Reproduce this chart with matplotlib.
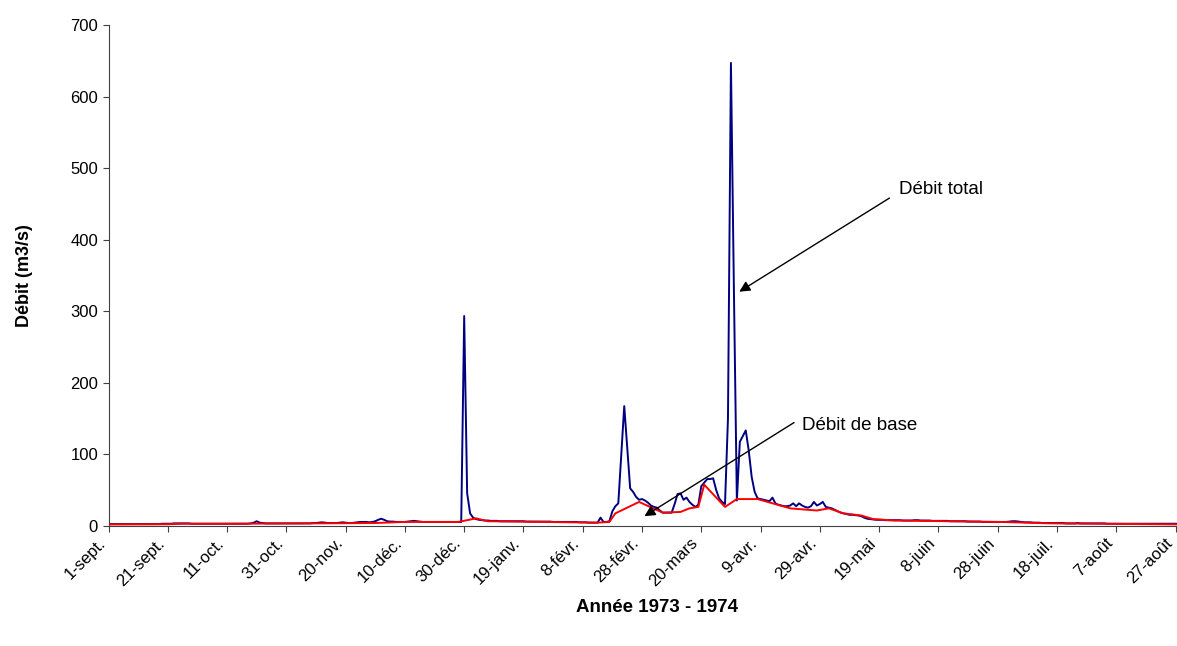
import matplotlib
matplotlib.use("Agg")
import matplotlib.pyplot as plt
from matplotlib.transforms import ScaledTranslation
import numpy as np

plt.rcParams['font.family'] = ['Liberation Sans', 'DejaVu Sans']

# Daily total flow (m3/s), 1 Sept 1973 -> 31 Aug 1974
debit_total = [
    2, 2, 2, 2, 2, 2, 2, 2, 2, 2,
    2, 2, 2, 2, 2, 2, 2, 2, 2.5, 2.5,
    2.5, 2.5, 3, 3, 3, 3, 3, 3, 2.5, 2.5,
    2.5, 2.5, 2.5, 2.5, 2.5, 2.5, 2.5, 2.5, 2.5, 2.5,
    2.5, 2.5, 2.5, 2.5, 2.5, 2.5, 2.5, 2.5, 3, 4,
    6, 4, 3.5, 3, 3, 3, 3, 3, 3, 3,
    3, 3, 3, 3, 3, 3, 3, 3, 3, 3.5,
    3.5, 4, 4.5, 4, 3.5, 3.5, 3.5, 3.5, 4, 4.5,
    4, 3.5, 3.5, 4, 4.5, 5, 5, 5, 4.5, 5,
    6, 8, 9.5, 8, 6, 5.5, 5.5, 5, 5, 5,
    5, 5.5, 6, 6.5, 6, 5.5, 5, 5, 5, 5,
    5, 5, 5, 5, 5, 5, 5, 5, 5, 5,
    293, 45, 17, 11, 9, 8, 7.5, 7, 7, 6.5,
    6.5, 6.5, 6, 6, 6, 6, 6, 6, 6, 6,
    6, 5.5, 5.5, 5.5, 5.5, 5.5, 5.5, 5.5, 5.5, 5.5,
    5, 5, 5, 5, 5, 5, 5, 5, 5, 4.5,
    4.5, 4.5, 4, 4, 4, 4, 11, 5, 5, 6,
    20, 27, 31, 100, 167, 110, 52, 47, 40, 36,
    37, 35, 32, 28, 26, 25, 21, 18, 18, 18,
    18, 30, 44, 45, 36, 39, 33, 29, 26, 29,
    55, 60, 65, 65, 66, 50, 38, 33, 30, 150,
    647, 330, 35, 117, 125, 133, 105, 68, 47, 38,
    37, 36, 35, 34, 39, 31, 29, 28, 27, 27,
    28, 31, 27, 31, 28, 26, 25, 27, 33, 28,
    30, 33, 26, 25, 24, 22, 20, 18, 17, 16,
    15, 15, 14.5, 14, 13, 11, 9.5, 9, 8.5, 8,
    8, 8, 7.5, 7.5, 7.5, 7.5, 7.5, 7.5, 7, 7,
    7, 7, 7.5, 7.5, 7, 7, 7, 7, 6.5, 6.5,
    6.5, 6.5, 6.5, 6.5, 6, 6, 6, 6, 6, 6,
    5.5, 5.5, 5.5, 5.5, 5.5, 5, 5, 5, 5, 5,
    5, 5, 5, 5, 5.5, 6, 6, 5.5, 5, 4.5,
    4.5, 4.5, 4, 4, 4, 3.5, 3.5, 3.5, 3.5, 3.5,
    3.5, 3.5, 3.5, 3, 3, 3, 3, 3.5, 3, 3,
    3, 3, 3, 3, 3, 3, 3, 2.5, 2.5, 2.5,
    2.5, 2.5, 2.5, 2.5, 2.5, 2.5, 2.5, 2.5, 2.5, 2.5,
    2.5, 2.5, 2.5, 2.5, 2.5, 2.5, 2.5, 2.5, 2.5, 2.5,
    2.5, 2.5, 2.5, 2.5, 2.5,
]

# Base flow: straight segments between separation points (day index, m3/s)
base_jours = [0, 20, 25, 40, 70, 90, 100, 118, 124, 128, 165, 169, 171, 179,
              187, 193, 196, 199, 201, 208, 212, 219, 230, 239, 243, 248,
              254, 258, 265, 301, 318, 364]
base_debit = [1.5, 1.8, 2.5, 2.5, 3, 3.5, 5, 5, 10, 6, 4, 5, 17, 33,
              18, 19, 24, 26, 57, 26, 37, 37, 24, 21, 24, 17,
              14, 9, 7, 5, 3, 1.5]

tick_labels = ['1-sept.', '21-sept.', '11-oct.', '31-oct.', '20-nov.', '10-déc.',
               '30-déc.', '19-janv.', '8-févr.', '28-févr.', '20-mars', '9-avr.',
               '29-avr.', '19-mai', '8-juin', '28-juin', '18-juil.', '7-août',
               '27-août']

jours = np.arange(len(debit_total))

fig = plt.figure(figsize=(11.77, 6.46), dpi=100)
ax = fig.add_axes([0.0922, 0.1865, 0.9078, 0.7748])

ax.plot(jours, debit_total, color='#000080', lw=1.4, zorder=2)
ax.plot(base_jours, base_debit, color='#FF0000', lw=1.4, zorder=3)

ax.set_xlim(0, 360.5)
ax.set_ylim(0, 700)
ax.set_yticks(range(0, 701, 100))
ax.set_xticks(np.arange(0, 361, 20))
ax.set_xticklabels(tick_labels, rotation=45, ha='right', va='center',
                   rotation_mode='anchor')

ax.spines['top'].set_visible(False)
ax.spines['right'].set_visible(False)
for s in ['left', 'bottom']:
    ax.spines[s].set_color('#404040')
ax.tick_params(axis='both', direction='out', length=4, width=0.8,
               color='#404040', labelsize=12)
ax.tick_params(axis='x', pad=8)

# nudge the slanted labels a little to the left so the last one fits
# (done after tick_params, which resets the label transforms)
shift = ScaledTranslation(-4 / 72, 1 / 72, fig.dpi_scale_trans)
for lbl in ax.get_xticklabels():
    lbl.set_transform(lbl.get_transform() + shift)

ax.set_ylabel('Débit (m3/s)', fontsize=13, fontweight='bold', labelpad=27)
fig.text(657 / 1177, 1 - 607 / 646, 'Année 1973 - 1974', fontsize=13.5,
         fontweight='bold', ha='center', va='center')

# annotations
ax.annotate('', xy=(212.8, 327), xytext=(263.5, 458),
            arrowprops=dict(arrowstyle='-|>', color='black', lw=1,
                            mutation_scale=16, shrinkA=0, shrinkB=0))
ax.text(266.7, 470, 'Débit total', fontsize=13.5, ha='left', va='center')

ax.annotate('', xy=(180.8, 13), xytext=(231.3, 144),
            arrowprops=dict(arrowstyle='-|>', color='black', lw=1,
                            mutation_scale=16, shrinkA=0, shrinkB=0))
ax.text(233.9, 140.5, 'Débit de base', fontsize=13.5, ha='left', va='center')

fig.savefig('out.png', dpi=100)
